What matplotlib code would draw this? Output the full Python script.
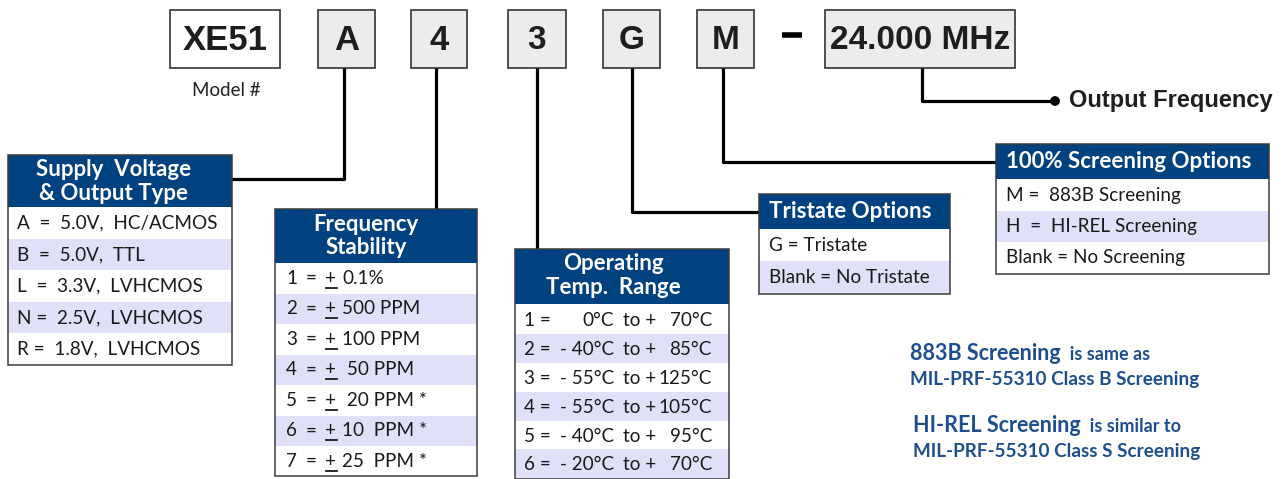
import matplotlib.pyplot as plt
from matplotlib.patches import Rectangle, Circle

# ---------------- part number fields ----------------
code_fields = ['XE51', 'A', '4', '3', 'G', 'M', '24.000 MHz']
model_label = 'Model #'
freq_label = 'Output Frequency'

supply_title = ['Supply  Voltage', '& Output Type']
supply_rows = ['A  =  5.0V,  HC/ACMOS', 'B  =  5.0V,  TTL', 'L  =  3.3V,  LVHCMOS',
               'N =  2.5V,  LVHCMOS', 'R =  1.8V,  LVHCMOS']

stab_title = ['Frequency', 'Stability']
stab_codes = ['1', '2', '3', '4', '5', '6', '7']
stab_values = ['0.1%', '500 PPM', '100 PPM', ' 50 PPM', ' 20 PPM *', '10  PPM *', '25  PPM *']

temp_title = ['Operating', 'Temp.  Range']
temp_codes = ['1', '2', '3', '4', '5', '6']
temp_low = ['0°C', '- 40°C', '- 55°C', '- 55°C', '- 40°C', '- 20°C']
temp_high = ['70°C', '85°C', '125°C', '105°C', '95°C', '70°C']

tri_title = 'Tristate Options'
tri_rows = ['G = Tristate', 'Blank = No Tristate']

scr_title = '100% Screening Options'
scr_rows = ['M =  883B Screening', 'H  =  HI-REL Screening', 'Blank = No Screening']

notes = [('883B Screening', '  is same as', 'MIL-PRF-55310 Class B Screening'),
         ('HI-REL Screening', '  is similar to', 'MIL-PRF-55310 Class S Screening')]

###################
# plotting styles #
###################
BLUE = '#00417f'
LAV = '#e0e0f9'
NOTE = '#1d4f8e'
INK = '#1a1a1a'
BODY = ['Lato', 'DejaVu Sans']
ARIAL = ['Liberation Sans', 'DejaVu Sans']
LW = 2.3
FS = 13.6   # body rows
HS = 16     # table headers

fig = plt.figure(figsize=(12.88, 4.79), dpi=100)
ax = fig.add_axes([0, 0, 1, 1])
ax.set_xlim(0, 1288)
ax.set_ylim(479, 0)
ax.axis('off')


def rect(x0, y0, x1, y1, fc, ec='none', lw=0, z=1):
    ax.add_patch(Rectangle((x0, y0), x1 - x0, y1 - y0, facecolor=fc, edgecolor=ec,
                           linewidth=lw, zorder=z))


def table(x0, x1, y0, yh, row_edges, lav):
    rect(x0, y0, x1, yh, BLUE, z=2)
    for i in range(len(row_edges) - 1):
        rect(x0, row_edges[i], x1, row_edges[i + 1], LAV if i in lav else 'white', z=2)
    rect(x0, y0, x1, row_edges[-1], 'none', ec='#3c3c3c', lw=1.1, z=3)


def body(x, y, s, ha='left', **kw):
    ax.text(x, y, s, ha=ha, va='center', fontsize=kw.pop('fontsize', FS), family=BODY,
            color=INK, zorder=4, **kw)


def head(x, y, s, ha='center'):
    ax.text(x, y, s, ha=ha, va='center', fontsize=HS, fontweight='bold', family=BODY,
            color='white', zorder=4)


# ---- top code boxes ----
box_x = [(170, 280), (318, 375), (411, 467), (508, 566), (603, 660), (697, 754), (825, 1015)]
for i, (code, (x0, x1)) in enumerate(zip(code_fields, box_x)):
    rect(x0, 10, x1, 68, 'white' if i == 0 else '#ececec', ec='#333333', lw=1.2, z=2)
    size = 25 if i < 3 else 24
    ax.text((x0 + x1) / 2, 40, code, ha='center', va='center', fontsize=size,
            fontweight='bold', family=ARIAL, color='#1e1e1e', zorder=4)
ax.text(226, 90, model_label, ha='center', va='center', fontsize=13.5, family=BODY, color='#222222')
ax.plot([782, 802], [34.5, 34.5], color='black', linewidth=4, solid_capstyle='butt')

# ---- connector lines ----
ax.plot([344, 344, 232], [68, 179, 179], color='black', lw=LW, zorder=1)
ax.plot([436, 436], [68, 212], color='black', lw=LW, zorder=1)
ax.plot([537, 537], [68, 252], color='black', lw=LW, zorder=1)
ax.plot([632, 632, 759], [68, 212, 212], color='black', lw=LW, zorder=1)
ax.plot([723, 723, 996], [68, 162, 162], color='black', lw=LW, zorder=1)
ax.plot([922, 922, 1053], [68, 101, 101], color='black', lw=LW, zorder=1)
ax.add_patch(Circle((1055, 101), 4.2, color='black', zorder=3))
ax.text(1069, 100, freq_label, ha='left', va='center', fontsize=17, fontweight='bold',
        family=ARIAL, color='#1e1e1e')

# ---- supply voltage ----
edges = [207 + i * 31.6 for i in range(6)]
table(8, 232, 155, 207, edges, [1, 3])
for j, t in enumerate(supply_title):
    head(114, 170 + j * 23, t)
for i, t in enumerate(supply_rows):
    body(17, (edges[i] + edges[i + 1]) / 2, t)

# ---- frequency stability ----
edges = [263 + i * 30.5 for i in range(8)]
table(275, 477, 209, 263, edges, [1, 3, 5])
for j, t in enumerate(stab_title):
    head(366, 224 + j * 23, t)
for i, (c, v) in enumerate(zip(stab_codes, stab_values)):
    yc = (edges[i] + edges[i + 1]) / 2
    body(286, yc, c)
    body(306, yc, '=')
    body(325, yc, '+')
    ax.plot([326, 337], [yc + 9.5, yc + 9.5], color=INK, lw=1.3, zorder=4)
    body(342, yc, v)

# ---- operating temperature ----
edges = [304, 334, 363, 392, 421, 449, 479]
table(515, 729, 249, 304, edges, [1, 3, 5])
for j, t in enumerate(temp_title):
    head(613, 264 + j * 23, t)
for i in range(len(temp_codes)):
    yc = (edges[i] + edges[i + 1]) / 2 + 1
    body(524, yc, temp_codes[i] + ' =')
    body(614, yc, temp_low[i], ha='right')
    body(623, yc, 'to +')
    body(712, yc, temp_high[i], ha='right')

# ---- tristate ----
edges = [229, 261, 294]
table(759, 950, 194, 229, edges, [1])
head(769, 212, tri_title, ha='left')
for i, t in enumerate(tri_rows):
    body(769, (edges[i] + edges[i + 1]) / 2, t)

# ---- screening ----
edges = [179, 211, 242, 274]
table(996, 1269, 144, 179, edges, [1])
head(1006, 162, scr_title, ha='left')
for i, t in enumerate(scr_rows):
    body(1006, (edges[i] + edges[i + 1]) / 2, t)

# ---- notes ----
for k, (lead, tail, second) in enumerate(notes):
    y1 = 354 + k * 72
    x0 = 910 + k * 3
    t = ax.text(x0, y1, lead, ha='left', va='center', fontsize=15.5, fontweight='bold',
                family=BODY, color=NOTE)
    fig.canvas.draw()
    bb = t.get_window_extent()
    xe = ax.transData.inverted().transform((bb.x1, bb.y0))[0]
    ax.text(xe, y1 + 1, tail, ha='left', va='center', fontsize=13, fontweight='bold',
            family=BODY, color=NOTE)
    ax.text(x0, y1 + 26, second, ha='left', va='center', fontsize=13.6, fontweight='bold',
            family=BODY, color=NOTE)

plt.savefig('out.png', dpi=100)
plt.close('all')
